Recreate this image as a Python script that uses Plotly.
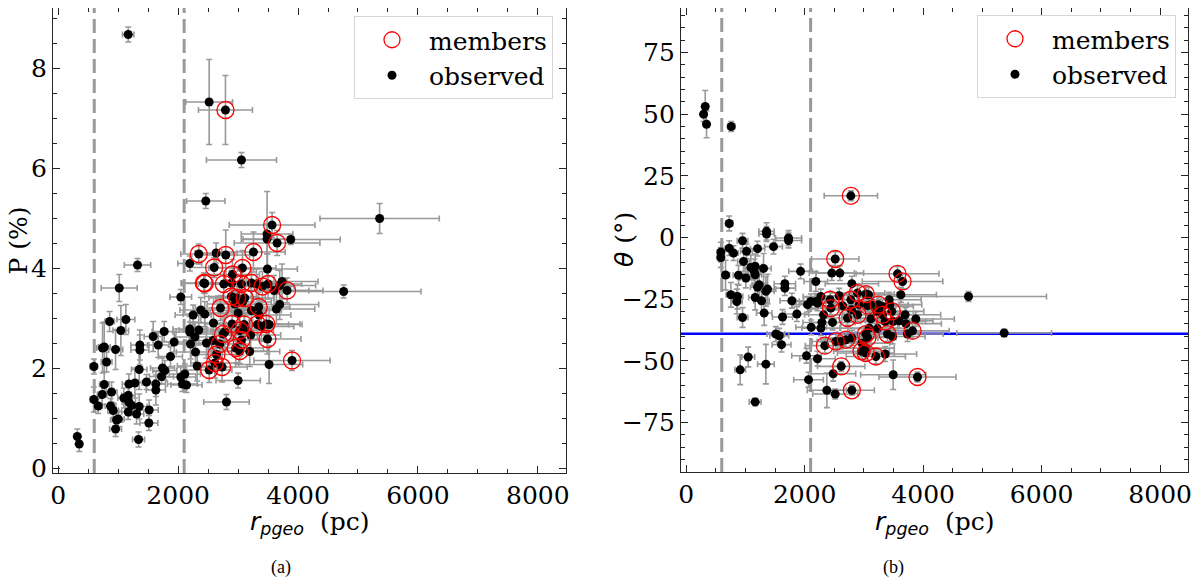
import plotly.graph_objects as go

# --- panel (a): polarisation vs distance ---
p_dist = [1167, 2517, 2789, 3056, 2461, 3567, 5361, 3483, 3483, 3650, 3878, 2344, 2633, 2794, 3256, 2194,
          2600, 3072, 1322, 1017, 3489, 2906, 2428, 2444, 2761, 2894, 3056, 3222, 3306, 3406, 3500, 3733,
          3694, 3600, 3817, 4761, 2044, 2889, 2983, 3111, 2944, 3072, 3694, 3639, 2706, 3344, 3222, 3000,
          2378, 2444, 2250, 3350, 856, 1128, 1044, 2589, 2900, 3100, 3322, 3472, 3517, 3389, 1767, 2194,
          2344, 2194, 1583, 1933, 1667, 1361, 1361, 739, 767, 956, 2278, 2206, 2750, 2778, 3028, 3111,
          3211, 2583, 2694, 2472, 2961, 3056, 3489, 3194, 2289, 1872, 3028, 2639, 594, 806, 1350, 2317,
          2611, 2733, 2517, 3517, 3900, 1739, 1778, 1722, 2044, 2111, 2072, 2139, 1472, 1628, 1628, 1178,
          1278, 767, 3000, 594, 667, 733, 889, 872, 917, 1094, 1167, 1178, 1222, 1167, 1350, 1306,
          972, 1000, 956, 1517, 1511, 1339, 2806, 317, 350]
p_val = [8.67, 7.32, 7.16, 6.16, 5.34, 4.86, 4.99, 4.68, 4.58, 4.50, 4.57, 4.28, 4.30, 4.26, 4.32, 4.09,
         4.01, 4.00, 4.06, 3.60, 3.98, 3.87, 3.70, 3.69, 3.68, 3.70, 3.68, 3.70, 3.68, 3.63, 3.68, 3.73,
         3.65, 3.55, 3.55, 3.53, 3.42, 3.43, 3.40, 3.40, 3.28, 3.32, 3.27, 3.18, 3.20, 3.22, 3.15, 3.10,
         3.16, 3.08, 3.06, 3.06, 2.93, 2.97, 2.75, 2.90, 2.88, 2.87, 2.87, 2.88, 2.87, 2.83, 2.73, 2.78,
         2.76, 2.72, 2.63, 2.52, 2.46, 2.46, 2.36, 2.40, 2.42, 2.37, 2.62, 2.48, 2.68, 2.72, 2.75, 2.78,
         2.66, 2.55, 2.48, 2.50, 2.40, 2.56, 2.58, 2.33, 2.32, 2.23, 2.34, 2.27, 2.03, 2.12, 1.97, 2.04,
         2.10, 2.02, 1.96, 2.07, 2.15, 2.00, 1.95, 1.83, 1.82, 1.88, 1.68, 1.66, 1.72, 1.68, 1.56, 1.68,
         1.70, 1.67, 1.75, 1.37, 1.24, 1.47, 1.52, 1.24, 1.15, 1.40, 1.45, 1.32, 1.25, 1.12, 1.23, 1.08,
         0.96, 0.98, 0.78, 1.16, 0.90, 0.57, 1.32, 0.63, 0.48]
p_dist_err = [95, 390, 450, 585, 320, 715, 995, 430, 400, 715, 825, 300, 350, 400, 530, 200,
              400, 560, 220, 300, 500, 450, 380, 380, 420, 450, 500, 500, 520, 530, 560, 600,
              600, 580, 600, 1290, 180, 450, 470, 480, 460, 480, 650, 640, 420, 520, 500, 470,
              350, 360, 300, 530, 80, 150, 130, 400, 450, 480, 520, 560, 550, 540, 200, 280,
              330, 280, 150, 200, 180, 150, 150, 100, 100, 120, 320, 300, 420, 420, 480, 480,
              500, 400, 420, 380, 460, 480, 560, 500, 320, 200, 480, 420, 60, 90, 130, 330,
              400, 420, 380, 560, 635, 200, 200, 200, 250, 260, 250, 260, 130, 160, 160, 110,
              120, 80, 370, 60, 70, 80, 90, 90, 90, 100, 110, 110, 110, 110, 130, 120,
              100, 100, 100, 150, 150, 100, 380, 30, 30]
p_val_err = [0.15, 0.85, 0.69, 0.15, 0.15, 0.25, 0.30, 0.85, 0.30, 0.25, 0.10, 0.20, 0.20, 0.50, 0.40, 0.15,
             0.20, 0.35, 0.13, 0.27, 0.30, 0.30, 0.20, 0.20, 0.25, 0.25, 0.30, 0.30, 0.30, 0.30, 0.30, 0.35,
             0.30, 0.30, 0.25, 0.13, 0.15, 0.30, 0.30, 0.30, 0.25, 0.25, 0.30, 0.30, 0.25, 0.30, 0.25, 0.25,
             0.25, 0.25, 0.20, 0.30, 0.20, 0.30, 0.50, 0.30, 0.30, 0.30, 0.30, 0.30, 0.30, 0.30, 0.20, 0.25,
             0.30, 0.20, 0.30, 0.20, 0.25, 0.30, 0.30, 0.50, 0.50, 0.40, 0.30, 0.30, 0.30, 0.30, 0.30, 0.30,
             0.30, 0.30, 0.30, 0.30, 0.30, 0.30, 0.30, 0.30, 0.25, 0.20, 0.25, 0.30, 0.15, 0.20, 0.40, 0.30,
             0.30, 0.30, 0.25, 0.38, 0.20, 0.20, 0.20, 0.15, 0.20, 0.20, 0.15, 0.15, 0.15, 0.25, 0.30, 0.20,
             0.30, 0.25, 0.15, 0.25, 0.15, 0.20, 0.20, 0.15, 0.15, 0.20, 0.20, 0.20, 0.20, 0.15, 0.25, 0.20,
             0.15, 0.15, 0.15, 0.20, 0.15, 0.15, 0.15, 0.15, 0.15]
p_member = [0, 0, 1, 0, 0, 1, 0, 0, 0, 1, 0, 1, 0, 1, 1, 0,
            1, 1, 0, 0, 0, 1, 1, 1, 1, 0, 1, 1, 0, 1, 1, 0,
            0, 0, 1, 0, 0, 1, 1, 1, 0, 0, 0, 0, 1, 1, 0, 0,
            0, 0, 0, 0, 0, 0, 0, 0, 1, 1, 1, 1, 0, 0, 0, 0,
            0, 0, 0, 0, 0, 0, 0, 0, 0, 0, 0, 0, 1, 0, 1, 0,
            0, 0, 1, 0, 1, 1, 1, 0, 0, 0, 1, 1, 0, 0, 0, 0,
            1, 1, 1, 0, 1, 0, 0, 0, 0, 0, 0, 0, 0, 0, 0, 0,
            0, 0, 0, 0, 0, 0, 0, 0, 0, 0, 0, 0, 0, 0, 0, 0,
            0, 0, 0, 0, 0, 0, 0, 0, 0]

# --- panel (b): position angle vs distance ---
t_dist = [321, 293, 343, 760, 2779, 726, 1356, 1356, 1727, 1727, 585, 585, 726, 799, 951, 1018,
          1204, 1474, 968, 1007, 883, 664, 1091, 1164, 1148, 1164, 1305, 1232, 1204, 1373, 1345, 1665,
          1665, 1930, 754, 866, 855, 1164, 1271, 1783, 951, 1316, 1626, 1868, 1513, 1570, 1609, 911,
          1046, 1345, 1164, 2188, 2515, 2458, 2594, 3567, 3651, 2796, 3623, 4765, 5367, 2430, 2442, 2048,
          2104, 2188, 2273, 2216, 2318, 2290, 2273, 2470, 2110, 2723, 2582, 2638, 2892, 3032, 3077, 2779,
          2790, 2920, 3060, 3117, 3246, 3212, 3314, 3437, 3471, 3426, 3314, 3117, 2892, 3359, 3494, 3595,
          3696, 3707, 3876, 3820, 3735, 3398, 3482, 3229, 3088, 3032, 3060, 2965, 3032, 2959, 3032, 2796,
          2695, 2610, 2526, 2340, 3201, 3359, 2031, 2216, 2616, 2481, 2065, 3494, 3904, 2374, 2515, 2796]
t_val = [53.1, 50.0, 45.9, 45.0, 16.9, 5.7, 2.5, 1.4, -0.2, -1.2, -5.9, -8.1, -4.3, -6.3, -1.3, -5.6,
         -4.5, -3.7, -9.7, -16.4, -15.3, -15.2, -12.1, -11.7, -13.7, -15.1, -12.5, -19.1, -20.1, -20.9, -21.8, -18.7,
         -20.5, -13.7, -23.2, -23.9, -25.9, -24.3, -25.6, -25.6, -32.4, -30.6, -32.2, -31.0, -39.1, -39.8, -43.4, -53.6,
         -48.4, -51.3, -66.6, -17.8, -8.7, -14.4, -14.4, -14.7, -17.8, -18.7, -23.2, -23.9, -38.7, -25.2, -28.6, -27.2,
         -25.9, -25.9, -23.9, -26.6, -31.3, -34.4, -36.7, -34.4, -36.4, -32.6, -23.6, -27.6, -22.5, -22.9, -23.2, -25.2,
         -29.3, -27.2, -27.6, -27.2, -27.2, -29.9, -27.9, -27.2, -29.9, -25.2, -31.3, -32.9, -31.3, -34.0, -34.0, -33.7,
         -31.3, -34.9, -33.0, -37.8, -39.1, -39.1, -40.1, -36.9, -36.7, -39.1, -40.5, -42.8, -44.8, -46.1, -46.8, -40.7,
         -41.4, -42.1, -42.1, -43.8, -48.2, -47.2, -47.9, -49.1, -52.2, -55.2, -57.6, -55.6, -56.5, -61.9, -63.4, -61.9]
t_dist_err = [30, 30, 30, 60, 450, 60, 130, 130, 220, 220, 60, 60, 70, 80, 90, 100,
              120, 150, 100, 100, 90, 70, 110, 110, 110, 110, 130, 120, 120, 140, 140, 180,
              180, 200, 80, 90, 90, 110, 130, 200, 90, 130, 170, 200, 150, 160, 160, 90,
              110, 140, 100, 200, 400, 380, 400, 700, 680, 450, 600, 1316, 800, 380, 380, 250,
              250, 280, 300, 300, 320, 320, 320, 380, 260, 420, 400, 420, 460, 480, 480, 440,
              440, 460, 480, 490, 500, 500, 520, 540, 540, 540, 520, 490, 460, 530, 550, 570,
              600, 600, 650, 620, 600, 530, 550, 500, 480, 480, 480, 470, 480, 470, 480, 440,
              420, 400, 400, 330, 500, 530, 250, 300, 400, 380, 250, 550, 650, 330, 380, 380]
t_val_err = [6.5, 3.0, 5.5, 2.0, 2.0, 3.0, 3.5, 3.0, 3.0, 3.0, 4.0, 4.0, 3.0, 3.0, 3.0, 3.0,
             3.0, 3.0, 4.0, 4.0, 4.0, 6.0, 5.0, 5.0, 5.0, 5.0, 6.0, 5.0, 5.0, 6.0, 6.0, 3.0,
             3.0, 3.0, 5.0, 5.0, 5.0, 5.0, 5.0, 3.0, 4.0, 5.0, 3.0, 3.0, 3.0, 3.0, 3.0, 6.0,
             4.0, 8.0, 1.5, 4.0, 3.0, 3.0, 3.0, 3.0, 3.0, 3.0, 3.0, 2.0, 1.5, 3.0, 3.0, 3.0,
             3.0, 3.0, 3.0, 3.0, 3.0, 3.0, 3.0, 3.0, 3.0, 3.0, 3.0, 3.0, 3.0, 3.0, 3.0, 3.0,
             3.0, 3.0, 3.0, 3.0, 3.0, 3.0, 3.0, 3.0, 3.0, 3.0, 3.0, 3.0, 3.0, 3.0, 3.0, 3.0,
             3.0, 3.0, 3.0, 3.0, 3.0, 3.0, 3.0, 3.0, 3.0, 3.0, 3.0, 3.0, 3.0, 3.0, 3.0, 3.0,
             3.0, 3.0, 3.0, 3.0, 3.0, 3.0, 3.0, 3.0, 2.0, 3.0, 3.0, 6.0, 2.0, 7.0, 2.0, 2.0]
t_member = [0, 0, 0, 0, 1, 0, 0, 0, 0, 0, 0, 0, 0, 0, 0, 0,
            0, 0, 0, 0, 0, 0, 0, 0, 0, 0, 0, 0, 0, 0, 0, 0,
            0, 0, 0, 0, 0, 0, 0, 0, 0, 0, 0, 0, 0, 0, 0, 0,
            0, 0, 0, 0, 1, 0, 0, 1, 1, 0, 0, 0, 0, 1, 1, 0,
            0, 0, 0, 0, 0, 0, 0, 0, 0, 1, 0, 0, 1, 1, 0, 1,
            0, 0, 1, 0, 1, 0, 0, 0, 1, 0, 1, 0, 1, 1, 0, 0,
            0, 0, 0, 1, 0, 1, 0, 0, 0, 1, 1, 0, 0, 1, 1, 0,
            1, 0, 1, 1, 1, 0, 0, 0, 1, 0, 0, 0, 1, 0, 0, 1]

cloud_edges = [600, 2100]   # dashed vertical lines (pc)
mean_angle = -39            # blue horizontal line (deg)

x_ticks = [0, 2000, 4000, 6000, 8000]

#### style ####
SERIF = "DejaVu Serif"
FONT_SIZE = 25
ERR_COLOUR = "#999999"
AXIS_COLOUR = "#262626"

# the page body has an 8px margin, so the figure is a bit smaller than the window
PAGE_OFF = 8
W, H = 1200 - PAGE_OFF, 580 - PAGE_OFF


def fx(px):
    return (px - PAGE_OFF) / W


def fy(py):
    return 1 - (max(py, PAGE_OFF) - PAGE_OFF) / H


fig = go.Figure()


def add_panel(dist, val, dist_err, val_err, member, xa, ya, legend):
    fig.add_trace(go.Scatter(
        x=dist, y=val, mode="markers", name="observed",
        xaxis=xa, yaxis=ya, legend=legend, legendrank=2,
        marker=dict(color="black", size=9),
        error_x=dict(type="data", array=dist_err, color=ERR_COLOUR, thickness=1.6, width=3),
        error_y=dict(type="data", array=val_err, color=ERR_COLOUR, thickness=1.6, width=3),
    ))
    mx = [d for d, m in zip(dist, member) if m]
    my = [v for v, m in zip(val, member) if m]
    fig.add_trace(go.Scatter(
        x=mx, y=my, mode="markers", name="members",
        xaxis=xa, yaxis=ya, legend=legend, legendrank=1,
        marker=dict(symbol="circle-open", color="red", size=17, line=dict(width=1.3)),
    ))


add_panel(p_dist, p_val, p_dist_err, p_val_err, p_member, "x", "y", "legend")
add_panel(t_dist, t_val, t_dist_err, t_val_err, t_member, "x2", "y2", "legend2")

# dashed lines marking the distance range
for xa, ya in [("x", "y"), ("x2", "y2")]:
    for edge in cloud_edges:
        fig.add_shape(type="line", xref=xa, yref=ya + " domain", x0=edge, x1=edge, y0=0, y1=1,
                      line=dict(color=ERR_COLOUR, width=3, dash="14px,6px"), layer="below")

fig.add_shape(type="line", xref="x2 domain", yref="y2", x0=0, x1=1, y0=mean_angle, y1=mean_angle,
              line=dict(color="#0000ff", width=2.5), layer="below")

axis_common = dict(
    showgrid=False, zeroline=False, showline=True, linecolor=AXIS_COLOUR, linewidth=1.3,
    mirror="allticks", ticks="inside", ticklen=7, tickwidth=1.2, tickcolor=AXIS_COLOUR,
    tickfont=dict(family=SERIF, size=FONT_SIZE, color="black"), automargin=False,
)

legend_common = dict(xanchor="right", yanchor="top", bgcolor="white", bordercolor="#d6d6d6",
                     borderwidth=1, font=dict(family=SERIF, size=FONT_SIZE), tracegroupgap=4,
                     itemwidth=64)

XR = [-88, 8470]
fig.update_layout(
    width=W, height=H,
    margin=dict(l=0, r=0, t=0, b=0),
    paper_bgcolor="white", plot_bgcolor="white",
    font=dict(family=SERIF, size=FONT_SIZE, color="black"),
    xaxis=dict(axis_common, domain=[fx(53), fx(566)], range=XR, tickvals=x_ticks,
               minor=dict(ticks="inside", dtick=500, ticklen=4, tickcolor=AXIS_COLOUR), anchor="y"),
    yaxis=dict(axis_common, domain=[fy(473), fy(8)], range=[-0.1, 9.2], dtick=2,
               minor=dict(ticks="inside", dtick=0.5, ticklen=4, tickcolor=AXIS_COLOUR), anchor="x"),
    xaxis2=dict(axis_common, domain=[fx(681), fx(1188)], range=XR, tickvals=x_ticks,
                minor=dict(ticks="inside", dtick=500, ticklen=4, tickcolor=AXIS_COLOUR), anchor="y2"),
    yaxis2=dict(axis_common, domain=[fy(472), fy(8)], range=[-95, 93], dtick=25,
                minor=dict(ticks="inside", dtick=5, ticklen=4, tickcolor=AXIS_COLOUR), anchor="x2"),
    legend=dict(legend_common, x=fx(553), y=fy(16)),
    legend2=dict(legend_common, x=fx(1176), y=fy(15)),
)

xlabel = ('<span style="font-family:DejaVu Sans"><i>r</i><sub><i>pgeo</i></sub></span>'
          '\u00a0\u00a0(pc)')
for xref, cap, cx in [("x domain", "(a)", 281), ("x2 domain", "(b)", 893)]:
    fig.add_annotation(text=xlabel, xref=xref, yref="paper", x=0.5, y=fy(523),
                       showarrow=False, xanchor="center", yanchor="middle",
                       font=dict(family=SERIF, size=FONT_SIZE))
    fig.add_annotation(text=cap, xref="paper", yref="paper", x=fx(cx), y=fy(567),
                       showarrow=False, xanchor="center", yanchor="middle",
                       font=dict(family="Liberation Serif", size=18))

fig.add_annotation(text="P (%)", xref="paper", yref="y domain", x=fx(18), y=0.5,
                   textangle=-90, showarrow=False, xanchor="center", yanchor="middle",
                   font=dict(family=SERIF, size=FONT_SIZE))
fig.add_annotation(text='<span style="font-family:DejaVu Sans"><i>θ</i></span> (°)',
                   xref="paper", yref="y2 domain", x=fx(624), y=0.5,
                   textangle=-90, showarrow=False, xanchor="center", yanchor="middle",
                   font=dict(family=SERIF, size=FONT_SIZE))

fig.write_html("out.html")
